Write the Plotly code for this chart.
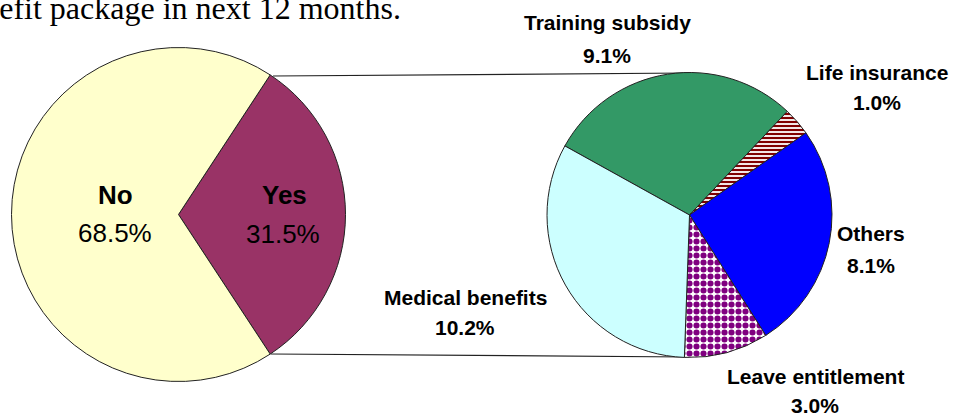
import plotly.graph_objects as go

W, H = 957, 417

# ---- data ----
main_labels = ["Yes", "No"]
main_values = [31.5, 68.5]
main_colors = ["#993366", "#FFFFCC"]

sub_labels = ["Training subsidy", "Life insurance", "Others", "Leave entitlement", "Medical benefits"]
sub_values = [9.1, 1.0, 8.1, 3.0, 10.2]
sub_colors = ["#339966", "#FFFFFF", "#0000FF", "#FFFFFF", "#CCFFFF"]
sub_pattern_shapes = ["", "-", "", ".", ""]
sub_pattern_fg = ["#339966", "#800000", "#0000FF", "#800080", "#CCFFFF"]

title_text = "benefit package in next 12 months."

# ---- layout helpers (pixel positions) ----
def px(x):
    return x / W

def py(y):
    return 1 - y / H

fig = go.Figure()

main_rotation = 90 - main_values[0] / sum(main_values) * 180

fig.add_trace(go.Pie(
    labels=main_labels, values=main_values, sort=False, direction="clockwise",
    rotation=main_rotation,
    marker=dict(colors=main_colors, line=dict(color="#222222", width=1)),
    textinfo="none", hoverinfo="skip",
    domain=dict(x=[px(11.5), px(345.5)], y=[py(381.5), py(47.5)]),
))

fig.add_trace(go.Pie(
    labels=sub_labels, values=sub_values, sort=False, direction="clockwise",
    rotation=-61,
    marker=dict(colors=sub_colors, line=dict(color="#222222", width=1),
                pattern=dict(shape=sub_pattern_shapes, fgcolor=sub_pattern_fg,
                             fgopacity=1, fillmode="overlay", size=[5, 4, 5, 7, 5],
                             solidity=[0.5, 0.55, 0.5, 0.6, 0.5])),
    textinfo="none", hoverinfo="skip",
    domain=dict(x=[px(547), px(832)], y=[py(357.5), py(72.5)]),
))

# connector lines
for (x0, y0, x1, y1) in [(273, 76, 689, 73), (271, 354, 689, 357)]:
    fig.add_shape(type="line", xref="paper", yref="paper",
                  x0=px(x0), y0=py(y0), x1=px(x1), y1=py(y1),
                  line=dict(color="#222222", width=1.2), layer="below")

# labels
sans = "Liberation Sans, Arial, sans-serif"
main_label_pos = [(284, 195, 283, 234), (115, 195, 115, 233)]
for lab, val, (nx, ny, vx, vy) in zip(main_labels, main_values, main_label_pos):
    fig.add_annotation(x=px(nx), y=py(ny), xref="paper", yref="paper", showarrow=False,
                       text=f"<b>{lab}</b>", font=dict(family=sans, size=26, color="black"),
                       xanchor="center", yanchor="middle")
    fig.add_annotation(x=px(vx), y=py(vy), xref="paper", yref="paper", showarrow=False,
                       text=f"{val:.1f}%", font=dict(family=sans, size=26, color="black"),
                       xanchor="center", yanchor="middle")

sub_label_pos = [(607, 23, 607, 55), (877, 72, 877, 102), (871, 233, 871, 265),
                 (815, 376, 815, 405), (465, 297, 465, 327)]
for lab, val, (nx, ny, vx, vy) in zip(sub_labels, sub_values, sub_label_pos):
    fig.add_annotation(x=px(nx), y=py(ny), xref="paper", yref="paper", showarrow=False,
                       text=f"<b>{lab}</b>", font=dict(family=sans, size=21, color="black"),
                       xanchor="center", yanchor="middle")
    fig.add_annotation(x=px(vx), y=py(vy), xref="paper", yref="paper", showarrow=False,
                       text=f"<b>{val:.1f}%</b>", font=dict(family=sans, size=21, color="black"),
                       xanchor="center", yanchor="middle")

fig.add_annotation(x=px(403), y=py(8), xref="paper", yref="paper", showarrow=False,
                   text=title_text, font=dict(family="Liberation Serif, Times New Roman, serif",
                                              size=32, color="black"),
                   xanchor="right", yanchor="middle")

fig.update_layout(width=W, height=H, margin=dict(l=0, r=0, t=0, b=0),
                  paper_bgcolor="white", plot_bgcolor="white", showlegend=False)

fig.write_html("out.html", config={"displayModeBar": False},
               post_script="document.body.style.margin='0px';document.body.style.overflow='hidden';")
